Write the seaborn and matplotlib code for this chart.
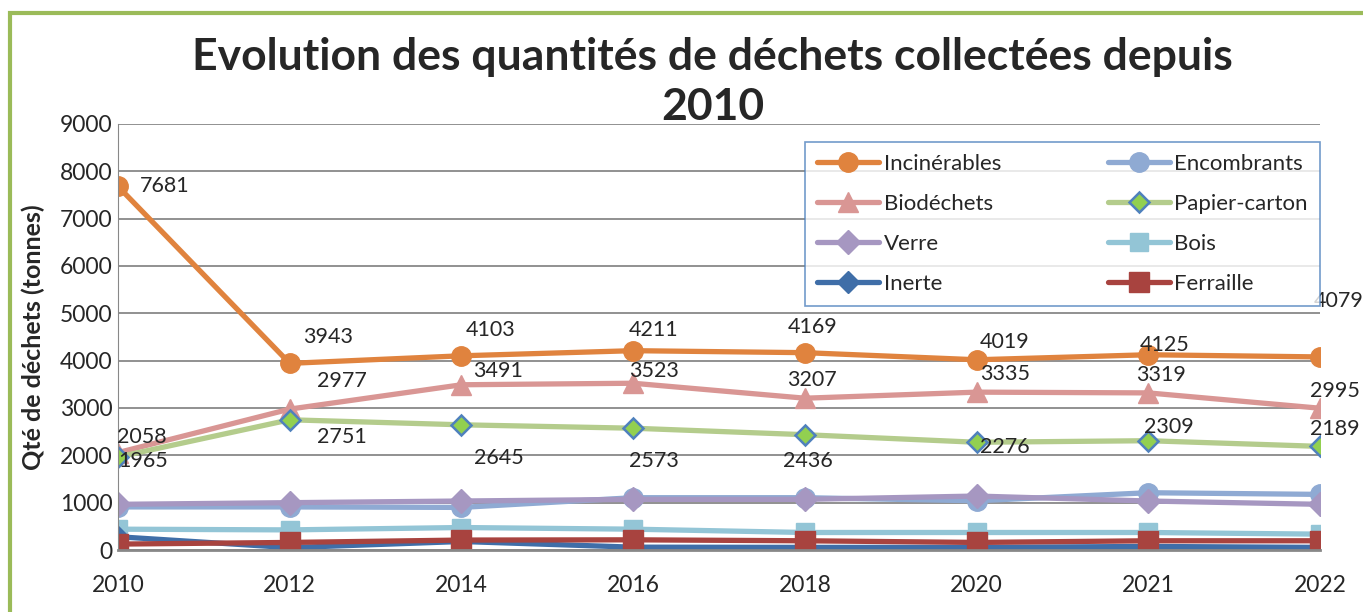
import matplotlib
matplotlib.use("Agg")
import matplotlib.pyplot as plt
import seaborn as sns
from matplotlib.patches import Rectangle

# Données
years = ["2010", "2012", "2014", "2016", "2018", "2020", "2021", "2022"]
incinerables = [7681, 3943, 4103, 4211, 4169, 4019, 4125, 4079]
encombrants = [910, 910, 900, 1105, 1105, 1040, 1210, 1175]
biodechets = [2058, 2977, 3491, 3523, 3207, 3335, 3319, 2995]
papier_carton = [1965, 2751, 2645, 2573, 2436, 2276, 2309, 2189]
verre = [965, 1000, 1035, 1070, 1070, 1140, 1035, 965]
bois = [440, 425, 475, 440, 370, 370, 370, 335]
inerte = [280, 50, 180, 60, 55, 55, 75, 55]
ferraille = [125, 160, 210, 215, 195, 160, 195, 195]

series = {
    "Incinérables": incinerables,
    "Encombrants": encombrants,
    "Biodéchets": biodechets,
    "Papier-carton": papier_carton,
    "Verre": verre,
    "Bois": bois,
    "Inerte": inerte,
    "Ferraille": ferraille,
}

styles = {
    "Incinérables": dict(color="#E0833E", marker="o", markersize=14, mec="#E0833E"),
    "Encombrants": dict(color="#8FAAD3", marker="o", markersize=14, mec="#8FAAD3"),
    "Biodéchets": dict(color="#D99694", marker="^", markersize=15, mec="#D99694"),
    "Papier-carton": dict(color="#B4CC8C", marker="D", markersize=10, mec="#4F81BD",
                          mfc="#92D050", mew=1.8),
    "Verre": dict(color="#A697C1", marker="D", markersize=12, mec="#A697C1"),
    "Bois": dict(color="#93C5D6", marker="s", markersize=13, mec="#93C5D6"),
    "Inerte": dict(color="#3F6EA8", marker="D", markersize=11, mec="#3F6EA8"),
    "Ferraille": dict(color="#A8433F", marker="s", markersize=14, mec="#A8433F"),
}

# décalages des étiquettes (pixels)
label_offsets = {
    "Incinérables": [(47, 0), (38, 26), (29, 26), (20, 21), (8, 26), (28, 18), (16, 10), (19, 56)],
    "Biodéchets": [(24, 16), (52, 28), (37, 14), (21, 12), (7, 18), (28, 18), (13, 18), (15, 17)],
    "Papier-carton": [(25, -4), (52, -17), (37, -33), (21, -33), (3, -26), (28, -5), (21, 14), (15, 17)],
}

sns.set_style("white")
plt.rcParams["font.family"] = ["Lato", "DejaVu Sans"]

fig = plt.figure(figsize=(13.63, 6.12), dpi=100)
ax = fig.add_axes([0.0866, 0.1013, 0.8819, 0.6961])

for name, values in series.items():
    st = styles[name]
    sns.lineplot(x=years, y=values, ax=ax, linewidth=3.8, label=name,
                 color=st["color"], marker=st["marker"], markersize=st["markersize"],
                 markeredgecolor=st["mec"], markerfacecolor=st.get("mfc", st["color"]),
                 markeredgewidth=st.get("mew", 1), sort=False)

for name, offs in label_offsets.items():
    for i, (v, off) in enumerate(zip(series[name], offs)):
        ax.annotate(str(v), (i, v), xytext=off, textcoords="offset pixels",
                    ha="center", va="center", fontsize=15.5)

ax.set_ylim(0, 9000)
ax.set_xlim(-0.0, len(years) - 1)
ax.set_yticks(range(0, 9001, 1000))
ax.yaxis.grid(True, color="#888888", linewidth=1.3)
ax.xaxis.grid(False)
ax.set_axisbelow(True)
for s in ["top", "right"]:
    ax.spines[s].set_visible(False)
ax.spines["left"].set_color("#888888")
ax.spines["bottom"].set_color("#888888")
ax.spines["bottom"].set_linewidth(2)
ax.tick_params(axis="both", labelsize=16.5, length=0, pad=4)
ax.tick_params(axis="x", pad=18)
ax.set_xlabel("")
ax.set_ylabel("Qté de déchets (tonnes)", fontsize=18, fontweight="bold")
ax.yaxis.set_label_coords(-0.061, 0.5)

fig.text(0.523, 0.866, "Evolution des quantités de déchets collectées depuis\n2010",
         ha="center", va="center", fontsize=32, fontweight="bold", linespacing=1.3)

handles, labels = ax.get_legend_handles_labels()
order = [0, 2, 4, 6, 1, 3, 5, 7]
leg = ax.legend([handles[i] for i in order], [labels[i] for i in order],
                ncol=2, loc="upper right", bbox_to_anchor=(1.0, 0.958), fontsize=16,
                frameon=True, fancybox=False, borderpad=0.55, columnspacing=4.8,
                handlelength=2.8, handletextpad=0.2, labelspacing=0.9,
                borderaxespad=0)
leg.get_frame().set_edgecolor("#4F81BD")
leg.get_frame().set_linewidth(1.2)

fig.patches.append(Rectangle((10 / 1363, -0.1), 1.2, (612 - 13) / 612 + 0.1,
                             transform=fig.transFigure, fill=False,
                             edgecolor="#9BBB59", linewidth=3, zorder=0))

fig.savefig("out.png", dpi=100)
